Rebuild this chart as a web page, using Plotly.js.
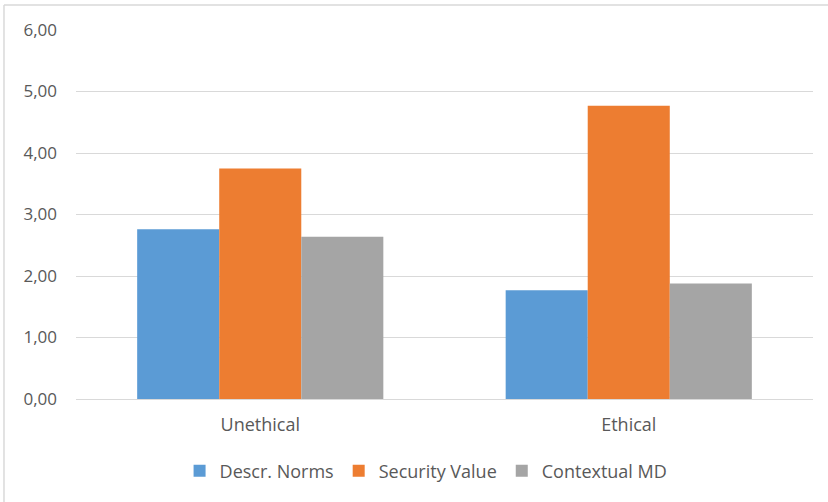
<!DOCTYPE html>
<html>
<head>
<meta charset="utf-8">
<script src="https://cdn.plot.ly/plotly-3.0.1.min.js"></script>
<style>html,body{margin:0;padding:0;background:#fff;}#chart{width:828px;height:502px;}</style>
</head>
<body>
<div id="chart"></div>
<script>
const categories = ["Unethical", "Ethical"];
const seriesNames = ["Descr. Norms", "Security Value", "Contextual MD"];
const descrNorms = [2.76, 1.77];
const securityValue = [3.75, 4.77];
const contextualMD = [2.64, 1.88];
const colors = ["#5B9BD5", "#ED7D31", "#A5A5A5"];
const yTicks = [0, 1, 2, 3, 4, 5, 6];

const values = [descrNorms, securityValue, contextualMD];
const traces = values.map((v, i) => ({
  type: "bar",
  name: seriesNames[i],
  x: categories,
  y: v,
  marker: {color: colors[i], line: {width: 0}},
  hoverinfo: "skip"
}));

const fontFam = "'Open Sans', 'Noto Sans', sans-serif";
const layout = {
  width: 828, height: 502,
  margin: {l: 76, r: 15, t: 30, b: 103},
  paper_bgcolor: "#ffffff",
  plot_bgcolor: "#ffffff",
  separators: ",.",
  font: {family: fontFam, size: 17, color: "#595959"},
  barmode: "group",
  bargap: 0.332,
  bargroupgap: 0,
  showlegend: true,
  legend: {orientation: "h", x: 0.475, xanchor: "center", y: -0.195, yanchor: "middle",
           font: {size: 18, color: "#595959"}, itemwidth: 30, traceorder: "normal"},
  xaxis: {type: "category", showgrid: false, zeroline: false, showline: false,
          ticks: "", tickfont: {size: 18, color: "#595959"}, ticklabelstandoff: 13},
  yaxis: {range: [0, 6], tickvals: yTicks, tickformat: ".2f", showgrid: true,
          gridcolor: "#D9D9D9", gridwidth: 1, zeroline: true, zerolinecolor: "#D9D9D9",
          zerolinewidth: 1, showline: false, ticks: "",
          tickfont: {size: 17, color: "#595959"}, ticklabelstandoff: 18},
  shapes: [
    {type: "line", xref: "paper", yref: "paper", x0: -0.0977, x1: -0.0977, y0: -0.3, y1: 1.0678,
     line: {color: "#D9D9D9", width: 1.5}, layer: "below"},
    {type: "line", xref: "paper", yref: "paper", x0: -0.0977, x1: 1.05, y0: 1.0678, y1: 1.0678,
     line: {color: "#D9D9D9", width: 1.5}, layer: "below"}
  ]
};

Plotly.newPlot("chart", traces, layout, {staticPlot: true, displayModeBar: false});
</script>
</body>
</html>
